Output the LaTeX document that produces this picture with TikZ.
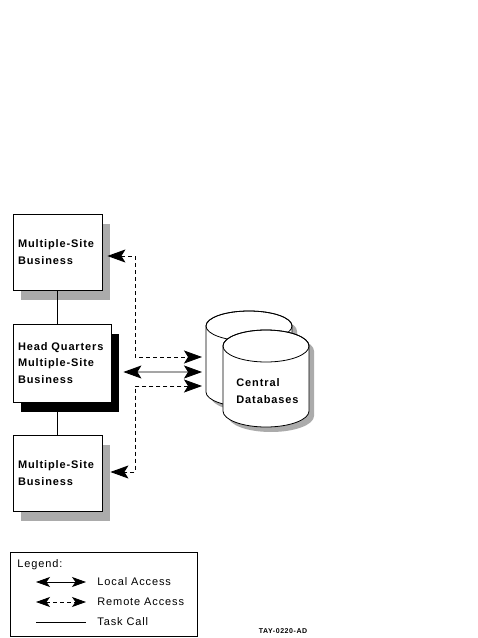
\documentclass[tikz,border=0pt]{standalone}
\usepackage{fontspec}
\newfontfamily\diagfont[LetterSpace=8]{Liberation Sans}
\usetikzlibrary{arrows.meta,shadows}

\begin{document}
\begin{tikzpicture}
[x=1bp,y=-1bp,line width=0.8bp,%
  font=\diagfont\fontsize{11bp}{16.5bp}\selectfont,%
  boxDecorate/.style={draw,fill=white,inner sep=0pt},%
  siteShadow/.style={drop shadow={shadow xshift=8bp,shadow yshift=-10bp,fill=black!33,opacity=1}},%
  hqShadow/.style={drop shadow={shadow xshift=8bp,shadow yshift=-10bp,fill=black,opacity=1}},%
  labelDecorate/.style={anchor=west,align=left,inner sep=0pt,font=\diagfont\bfseries\fontsize{11bp}{16.5bp}\selectfont},%
  localLine/.style={{Stealth[length=18bp,width=13bp,inset=4bp]}-{Stealth[length=18bp,width=13bp,inset=4bp]}},%
  remoteLine/.style={localLine,dash pattern=on 4bp off 3bp},%
  localKey/.style={{Stealth[length=14bp,width=10bp,inset=3.5bp]}-{Stealth[length=14bp,width=10bp,inset=3.5bp]}},%
  remoteKey/.style={localKey,dash pattern=on 4bp off 3bp}]
\useasboundingbox (0,0) rectangle (478,638);
%% business boxes
\foreach \nodename/\x/\y/\w/\h/\look/\boxtext in {
  siteA/57.5/252/89/76/siteShadow/{Multiple-Site\\Business},
  hq/62/363/98/78/hqShadow/{Head Quarters\\Multiple-Site\\Business},
  siteC/57.5/473/89/76/siteShadow/{Multiple-Site\\Business}}
{
  \node (\nodename) at (\x,\y) [boxDecorate,\look,minimum width=\w bp,minimum height=\h bp] {};
  \node [labelDecorate] at ([xshift=5bp]\nodename.west) {\boxtext};
}
%% task calls
\draw (siteA.south) -- (siteA.south |- hq.north);
\draw (siteC.north) -- (siteC.north |- hq.south);
%% central databases
\foreach \cx/\ctop/\cbot/\cry in {249/326/392/15, 266/346/411/16}
{
  \fill[black!33,shift={(5,5)}] (\cx-43,\ctop) -- (\cx-43,\cbot)
    arc[start angle=180,end angle=0,x radius=43,y radius=\cry]
    -- (\cx+43,\ctop) arc[start angle=0,end angle=-180,x radius=43,y radius=\cry] -- cycle;
  \filldraw[fill=white] (\cx-43,\ctop) -- (\cx-43,\cbot)
    arc[start angle=180,end angle=0,x radius=43,y radius=\cry]
    -- (\cx+43,\ctop) arc[start angle=0,end angle=-180,x radius=43,y radius=\cry] -- cycle;
  \draw (\cx,\ctop) ellipse[x radius=43,y radius=\cry];
}
\node (db) at (236,391) [labelDecorate] {Central\\Databases};
\coordinate (dbUpper) at (202,357);
\coordinate (dbMiddle) at (202,372);
\coordinate (dbLower) at (202,386);
%% access paths
\draw[remoteLine] ([xshift=5bp,yshift=-4bp]siteA.east) -| (135,357) -- (dbUpper);
\draw[localLine] ([xshift=12bp,yshift=-9bp]hq.east) -- (dbMiddle);
\draw[remoteLine] (dbLower) -| (135,472) -- ([xshift=8bp,yshift=1bp]siteC.east);
%% legend
\node (legend) at (103.5,594) [draw,minimum width=187bp,minimum height=84bp] {};
\node [anchor=west,inner sep=0pt] at (17,565) {Legend:};
\foreach \y/\kind/\entry in {582/localKey/Local Access, 602/remoteKey/Remote Access, 622/-/Task Call}
{
  \coordinate (keyStart) at (36,\y);
  \coordinate (keyEnd) at (86,\y);
  \draw[\kind] (keyStart) -- (keyEnd);
  \node [anchor=west,inner sep=0pt] at ([xshift=11bp]keyEnd) {\entry};
}
\node (tag) at (283,631) [font=\diagfont\bfseries\fontsize{7bp}{8bp}\selectfont] {TAY-0220-AD};
\end{tikzpicture}
\end{document}
